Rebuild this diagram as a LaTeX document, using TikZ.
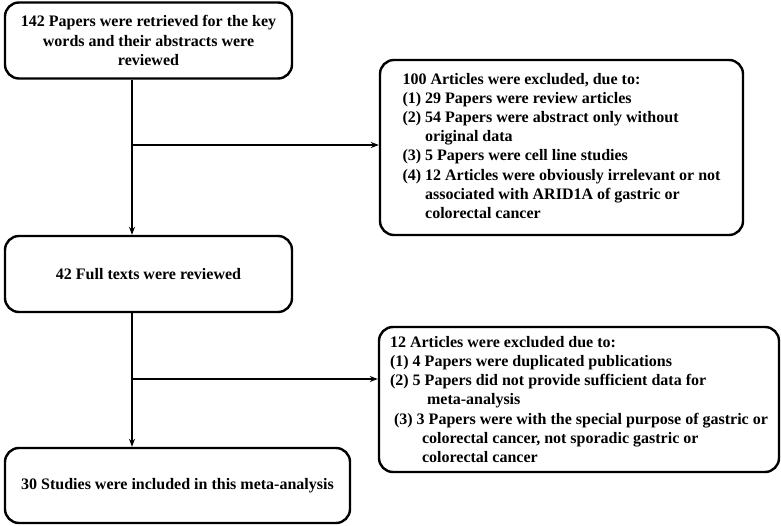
\documentclass[tikz,border=0pt]{standalone}
\usepackage{fontspec}
\setmainfont{Liberation Serif}
\usetikzlibrary{arrows.meta}

\begin{document}
\begin{tikzpicture}[x=1pt,y=-1pt,
    box/.style={rectangle,rounded corners=14pt,draw=black,line width=2.4pt,
      font=\fontsize{16}{19.2}\selectfont\bfseries,inner sep=0pt},
    flow/.style={-{Stealth[length=8pt,width=6pt]},line width=1.2pt}]
  \useasboundingbox (0,0) rectangle (781,526);
  % boxes down the left side
  \node (retrieved) [box,minimum width=287pt,minimum height=76pt,align=center] at (148.5,40.5)
    {142 Papers were retrieved for the key\\words and their abstracts were\\reviewed};
  \node (fulltext) [box,minimum width=287pt,minimum height=76pt] at (148.5,274)
    {42 Full texts were reviewed};
  \node (included) [box,minimum width=345pt,minimum height=75pt] at (177.5,485.5)
    {30 Studies were included in this meta-analysis};
  % exclusion boxes
  \node (excluded1) [box,minimum width=363pt,minimum height=175pt,align=left] at (561.5,147.5)
    {100 Articles were excluded, due to:\\
     (1) 29 Papers were review articles\\
     (2) 54 Papers were abstract only without\\
     \phantom{(2) }original data\\
     (3) 5 Papers were cell line studies\\
     (4) 12 Articles were obviously irrelevant or not\\
     \phantom{(4) }associated with ARID1A of gastric or\\
     \phantom{(4) }colorectal cancer};
  \node (excluded2) [box,minimum width=400pt,minimum height=145pt,align=left] at (579,399.5)
    {12 Articles were excluded due to:\\
     (1) 4 Papers were duplicated publications\\
     (2) 5 Papers did not provide sufficient data for\\
     \hspace{37pt}meta-analysis\\
     \hspace{4pt}(3) 3 Papers were with the special purpose of gastric or\\
     \hspace{32pt}colorectal cancer, not sporadic gastric or\\
     \hspace{32pt}colorectal cancer};
  % connectors
  \coordinate (spine) at (132,0);
  \coordinate (split1) at (132,145);
  \coordinate (split2) at (132,379);
  \draw [flow] (retrieved.south -| spine) to (fulltext.north -| spine);
  \draw [flow] (fulltext.south -| spine) to (included.north -| spine);
  \draw [flow] (split1) to (split1 -| excluded1.west);
  \draw [flow] (split2) to (split2 -| excluded2.west);
\end{tikzpicture}
\end{document}
